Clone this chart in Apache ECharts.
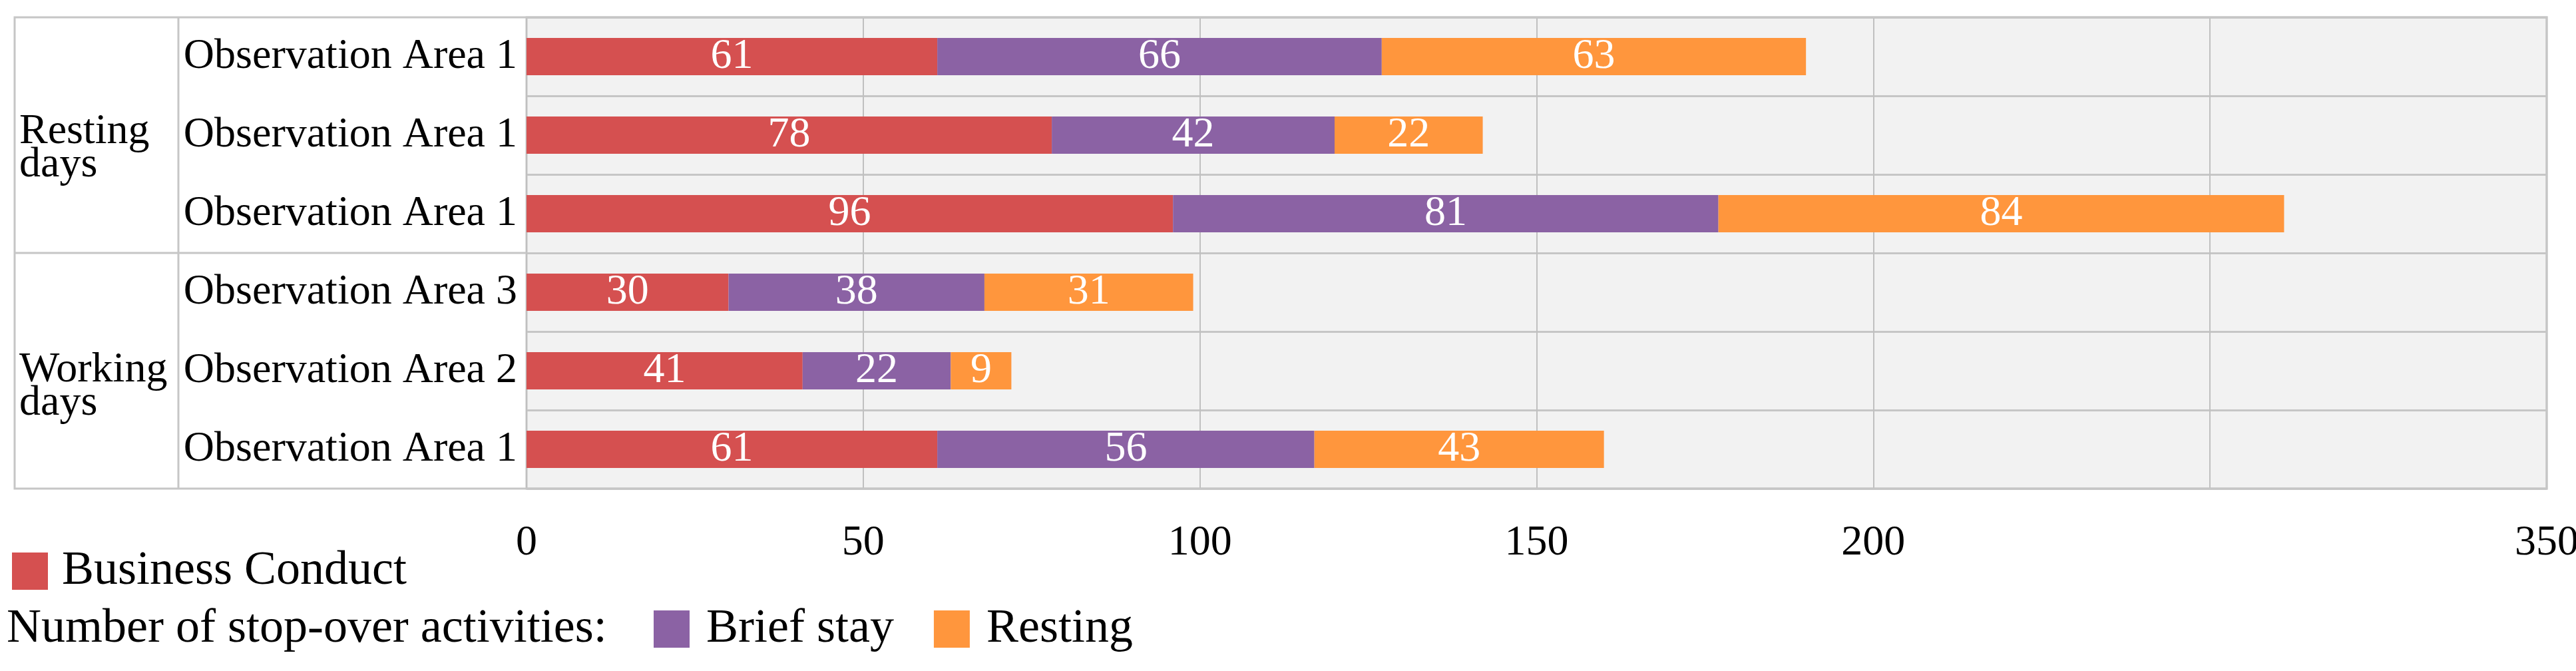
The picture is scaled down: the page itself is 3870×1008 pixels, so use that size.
<!DOCTYPE html>
<html><head><meta charset="utf-8">
<script src="https://cdn.jsdelivr.net/npm/echarts@6/dist/echarts.min.js"></script>
<style>html,body{margin:0;padding:0;background:#fff}#c{width:3870px;height:1008px}</style>
</head><body><div id="c"></div><script>
// ---- data ----
const categories = ['R1', 'R2', 'R3', 'W3', 'W2', 'W1'];
const categoryLabels = ['Observation Area 1', 'Observation Area 1', 'Observation Area 1', 'Observation Area 3', 'Observation Area 2', 'Observation Area 1'];
const groupLabels = ['Resting\ndays', 'Working\ndays'];
const seriesNames = ['Business Conduct', 'Brief stay', 'Resting'];
const businessConduct = [61, 78, 96, 30, 41, 61];
const briefStay = [66, 42, 81, 38, 22, 56];
const resting = [63, 22, 84, 31, 9, 43];
const xTickLabels = ['0', '50', '100', '150', '200', '', '350'];
const legendPrefix = 'Number of stop-over activities:';

// ---- layout / style ----
const W = 3870, H = 1008;
const FONT = "'Liberation Serif', 'DejaVu Serif', serif";
const colors = ['#D55050', '#8B62A4', '#FF963D'];
const lineColor = '#C6C6C6';
const outerLeft = 22, colX = 268, gridLeft = 791, gridRight = 3826, gridTop = 26, gridBottom = 734;
const gridH = gridBottom - gridTop;
const band = gridH / categories.length;
const groupDivY = gridTop + band * 3;

const chart = echarts.init(document.getElementById('c'), null, {renderer: 'canvas', width: W, height: H});

const seriesData = [businessConduct, briefStay, resting];
const series = seriesData.map((d, i) => ({
  name: seriesNames[i],
  type: 'bar',
  stack: 'total',
  barWidth: 56,
  data: d,
  itemStyle: {color: colors[i]},
  label: {show: true, position: 'inside', color: '#fff', fontSize: 64, fontFamily: FONT},
  emphasis: {disabled: true}
}));

const option = {
  backgroundColor: '#fff',
  animation: false,
  textStyle: {fontFamily: FONT},
  grid: {
    left: gridLeft, right: W - gridRight, top: gridTop, bottom: H - gridBottom,
    show: true, backgroundColor: '#F2F2F2', borderColor: lineColor, borderWidth: 3,
    containLabel: false, outerBoundsMode: 'none'
  },
  xAxis: {
    type: 'value', min: 0, max: 300, interval: 50,
    axisLine: {show: false}, axisTick: {show: false},
    splitLine: {show: true, lineStyle: {color: '#C0C0C0', width: 2}},
    axisLabel: {
      color: '#000', fontSize: 64, fontFamily: FONT, margin: 50,
      formatter: v => xTickLabels[Math.round(v / 50)]
    }
  },
  yAxis: {
    type: 'category', data: categories, inverse: true,
    axisLine: {show: false}, axisTick: {show: false},
    splitLine: {show: true, interval: 0, lineStyle: {color: lineColor, width: 3}},
    axisLabel: {
      color: '#000', fontSize: 64, fontFamily: FONT, margin: 14, interval: 0,
      formatter: (v, i) => categoryLabels[i]
    }
  },
  legend: [
    {
      data: [seriesNames[0]], left: 18, top: 822, padding: 0,
      icon: 'rect', itemWidth: 54, itemHeight: 56, selectedMode: false,
      textStyle: {fontSize: 72, fontFamily: FONT, color: '#000', padding: [0, 0, 0, 16]}
    },
    {
      data: [seriesNames[1], seriesNames[2]], left: 982, top: 909, padding: 0,
      icon: 'rect', itemWidth: 54, itemHeight: 56, itemGap: 60, selectedMode: false,
      textStyle: {fontSize: 72, fontFamily: FONT, color: '#000', padding: [0, 0, 0, 20]}
    }
  ],
  graphic: [
    {type: 'rect', z: 100, silent: true,
      shape: {x: outerLeft, y: gridTop, width: gridRight - outerLeft, height: gridBottom - gridTop},
      style: {fill: null, stroke: lineColor, lineWidth: 3}},
    {type: 'line', z: 100, silent: true,
      shape: {x1: colX, y1: gridTop, x2: colX, y2: gridBottom},
      style: {stroke: lineColor, lineWidth: 3}},
    {type: 'line', z: 100, silent: true,
      shape: {x1: outerLeft, y1: groupDivY, x2: gridLeft, y2: groupDivY},
      style: {stroke: lineColor, lineWidth: 3}},
    {type: 'text', z: 100, silent: true, x: 29, y: (gridTop + groupDivY) / 2 + 20,
      style: {text: groupLabels[0], font: '64px ' + FONT, fill: '#000', lineHeight: 50, verticalAlign: 'middle', align: 'left'}},
    {type: 'text', z: 100, silent: true, x: 29, y: (groupDivY + gridBottom) / 2 + 24,
      style: {text: groupLabels[1], font: '64px ' + FONT, fill: '#000', lineHeight: 50, verticalAlign: 'middle', align: 'left'}},
    {type: 'text', z: 100, silent: true, x: 10, y: 945,
      style: {text: legendPrefix, font: '72px ' + FONT, fill: '#000', verticalAlign: 'middle', align: 'left'}}
  ],
  series: series
};
chart.setOption(option);
</script></body></html>
